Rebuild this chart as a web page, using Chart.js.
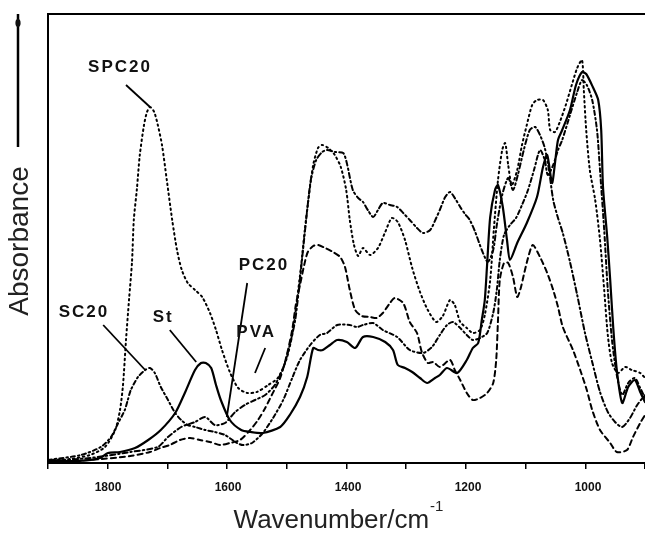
<!DOCTYPE html>
<html lang="en">
<head>
    <meta charset="UTF-8">
    <title>FTIR spectra</title>
    <script src="https://cdn.jsdelivr.net/npm/chart.js"></script>
    <style>
        html, body { margin: 0; padding: 0; background: #fff; }
        canvas#ftir-chart { display: block; }
    </style>
</head>
<body>
    <canvas id="ftir-chart" width="645" height="534"></canvas>

    <script>
        // tick labels shown on the wavenumber axis
        const tickLabels = [1800, 1600, 1400, 1200, 1000];

        // St (solid)
        const stWn  = [1900, 1847, 1813, 1800, 1780, 1755, 1733, 1712, 1688, 1672, 1655, 1645, 1637, 1628, 1620, 1612, 1597, 1578, 1563, 1542, 1513, 1497, 1480, 1468, 1458, 1450, 1442, 1430, 1418, 1402, 1388, 1375, 1358, 1338, 1325, 1317, 1305, 1293, 1280, 1268, 1255, 1247, 1235, 1218, 1202, 1192, 1183, 1177, 1172, 1168, 1163, 1155, 1150, 1142, 1135, 1130, 1118, 1102, 1085, 1075, 1068, 1060, 1055, 1050, 1043, 1030, 1020, 1010, 1003, 992, 983, 978, 975, 968, 963, 958, 952, 943, 933, 922, 913, 905];
        const stAbs = [2, 2, 5, 10, 11, 15, 23, 33, 50, 70, 93, 100, 100, 95, 78, 63, 43, 33, 31, 30, 36, 48, 66, 86, 115, 113, 113, 118, 123, 121, 115, 126, 126, 121, 113, 98, 95, 91, 85, 80, 85, 88, 95, 90, 103, 115, 120, 143, 163, 200, 246, 273, 278, 256, 223, 203, 220, 240, 266, 296, 308, 280, 300, 323, 333, 353, 378, 391, 389, 376, 363, 333, 276, 226, 183, 136, 93, 60, 76, 83, 71, 61];

        // SPC20
        const spcWn  = [1900, 1863, 1830, 1805, 1788, 1780, 1775, 1770, 1765, 1760, 1757, 1752, 1747, 1740, 1735, 1730, 1723, 1717, 1710, 1702, 1693, 1685, 1677, 1667, 1655, 1643, 1630, 1620, 1610, 1597, 1583, 1568, 1552, 1533, 1517, 1503, 1493, 1485, 1478, 1472, 1465, 1458, 1450, 1443, 1433, 1422, 1412, 1403, 1397, 1390, 1383, 1375, 1363, 1350, 1338, 1327, 1317, 1305, 1293, 1280, 1267, 1253, 1242, 1230, 1222, 1213, 1202, 1192, 1180, 1172, 1163, 1157, 1150, 1143, 1138, 1133, 1127, 1118, 1110, 1102, 1093, 1085, 1075, 1067, 1063, 1055, 1047, 1037, 1027, 1018, 1010, 1007, 1003, 997, 988, 980, 973, 967, 960, 950, 938, 927, 913, 905];
        const spcAbs = [3, 4, 8, 16, 33, 53, 78, 123, 163, 201, 243, 273, 308, 338, 351, 356, 351, 338, 318, 283, 243, 213, 193, 180, 173, 166, 150, 133, 113, 91, 75, 70, 71, 78, 85, 103, 128, 163, 198, 233, 268, 298, 315, 318, 315, 308, 296, 273, 243, 218, 207, 215, 208, 215, 231, 245, 241, 223, 195, 171, 153, 141, 147, 163, 158, 141, 135, 130, 133, 148, 183, 233, 283, 313, 320, 298, 278, 293, 318, 338, 358, 363, 363, 353, 333, 331, 341, 358, 378, 395, 403, 373, 333, 293, 263, 223, 173, 128, 100, 90, 96, 93, 90, 85];

        // SC20
        const scWn  = [1900, 1845, 1812, 1795, 1783, 1772, 1767, 1762, 1750, 1738, 1730, 1722, 1712, 1700, 1688, 1678, 1667, 1655, 1638, 1622, 1605, 1585, 1575, 1560, 1542, 1525, 1508, 1493, 1480, 1463, 1447, 1435, 1418, 1397, 1385, 1375, 1358, 1342, 1318, 1297, 1275, 1260, 1247, 1235, 1225, 1213, 1202, 1192, 1180, 1168, 1158, 1152, 1147, 1140, 1130, 1120, 1110, 1100, 1090, 1080, 1072, 1067, 1058, 1050, 1043, 1030, 1018, 1010, 1002, 993, 985, 980, 973, 967, 960, 952, 943, 933, 922, 913, 905];
        const scAbs = [3, 8, 16, 26, 40, 53, 63, 73, 86, 93, 95, 90, 76, 63, 50, 43, 38, 36, 33, 31, 28, 20, 18, 20, 30, 45, 63, 85, 103, 118, 128, 130, 138, 138, 136, 138, 140, 133, 126, 113, 110, 116, 128, 138, 141, 135, 128, 123, 125, 130, 150, 173, 203, 228, 238, 245, 258, 273, 293, 313, 303, 288, 298, 313, 323, 348, 371, 383, 378, 363, 333, 293, 233, 173, 123, 88, 68, 80, 85, 75, 65];

        // PC20
        const pcWn  = [1900, 1830, 1763, 1717, 1700, 1678, 1655, 1638, 1622, 1605, 1588, 1572, 1555, 1538, 1522, 1508, 1497, 1488, 1482, 1475, 1468, 1462, 1453, 1443, 1435, 1422, 1408, 1402, 1392, 1383, 1375, 1367, 1358, 1350, 1342, 1330, 1318, 1308, 1297, 1285, 1275, 1263, 1253, 1247, 1238, 1230, 1222, 1213, 1205, 1197, 1188, 1177, 1167, 1158, 1152, 1143, 1133, 1125, 1117, 1107, 1097, 1088, 1080, 1072, 1065, 1058, 1050, 1042, 1030, 1018, 1005, 993, 980, 967, 955, 943, 930, 918, 905];
        const pcAbs = [2, 5, 11, 16, 26, 36, 41, 46, 38, 40, 51, 58, 63, 68, 78, 95, 118, 143, 173, 213, 253, 283, 303, 311, 313, 311, 310, 300, 273, 265, 261, 253, 246, 253, 260, 258, 256, 250, 243, 235, 230, 233, 245, 253, 266, 271, 265, 256, 249, 243, 231, 213, 201, 213, 238, 268, 285, 273, 288, 313, 333, 336, 328, 315, 293, 263, 245, 230, 201, 168, 130, 101, 71, 51, 41, 36, 45, 58, 68];

        // PVA
        const pvaWn  = [1900, 1830, 1763, 1730, 1713, 1697, 1680, 1663, 1647, 1630, 1613, 1597, 1580, 1563, 1550, 1538, 1527, 1513, 1502, 1493, 1487, 1480, 1473, 1467, 1458, 1450, 1438, 1425, 1413, 1405, 1397, 1388, 1377, 1363, 1352, 1342, 1330, 1322, 1308, 1297, 1285, 1277, 1267, 1258, 1247, 1230, 1222, 1213, 1202, 1192, 1180, 1168, 1158, 1153, 1150, 1147, 1140, 1133, 1125, 1118, 1113, 1107, 1100, 1092, 1080, 1068, 1058, 1050, 1042, 1025, 1013, 1002, 993, 980, 963, 952, 935, 925, 913, 905];
        const pvaAbs = [1, 3, 7, 11, 15, 18, 23, 25, 23, 21, 18, 20, 23, 33, 43, 55, 68, 85, 108, 133, 158, 178, 198, 211, 217, 218, 215, 211, 206, 196, 173, 153, 147, 146, 145, 150, 160, 165, 160, 141, 130, 111, 100, 101, 96, 103, 93, 83, 70, 63, 65, 70, 80, 103, 143, 183, 200, 200, 186, 166, 173, 188, 205, 218, 206, 190, 173, 156, 136, 113, 93, 73, 53, 33, 20, 11, 13, 26, 40, 48];

        // curve labels with leader lines: [text, textWn, textAbs, fromWn, fromAbs, toWn, toAbs]
        const curveLabels = [
            ['SPC20', 1780, 396, 1770, 378, 1730, 356],
            ['SC20',  1840, 151, 1808, 138, 1738, 93],
            ['St',    1708, 146, 1697, 133, 1653, 101],
            ['PC20',  1540, 198, 1568, 180, 1602, 46],
            ['PVA',   1553, 131, 1538, 115, 1555, 90]
        ];

        function pts(wn, ab) {
            return wn.map((w, i) => ({ x: w, y: ab[i] }));
        }

        function series(label, wn, ab, dash, width) {
            return {
                label: label,
                data: pts(wn, ab),
                borderColor: '#000',
                borderWidth: width,
                borderDash: dash,
                borderCapStyle: 'round',
                pointRadius: 0,
                tension: 0.25,
                fill: false
            };
        }

        const FONT = '"Liberation Sans", Arial, sans-serif';

        const decor = {
            id: 'decor',
            afterDraw(chart) {
                const { ctx, chartArea: a, scales: { x, y } } = chart;
                ctx.save();

                // frame (left and top)
                ctx.strokeStyle = '#000';
                ctx.lineWidth = 2;
                ctx.beginPath();
                ctx.moveTo(a.left, a.bottom);
                ctx.lineTo(a.left, a.top);
                ctx.lineTo(a.right, a.top);
                ctx.stroke();

                // tick labels
                ctx.fillStyle = '#111';
                ctx.font = 'bold 12px ' + FONT;
                ctx.textAlign = 'center';
                ctx.textBaseline = 'middle';
                tickLabels.forEach(t => {
                    ctx.fillText(String(t), x.getPixelForValue(t), a.bottom + 25);
                });

                // curve labels
                ctx.font = 'bold 17px ' + FONT;
                ctx.letterSpacing = '2px';
                ctx.lineWidth = 1.8;
                curveLabels.forEach(l => {
                    ctx.fillText(l[0], x.getPixelForValue(l[1]), y.getPixelForValue(l[2]));
                    ctx.beginPath();
                    ctx.moveTo(x.getPixelForValue(l[3]), y.getPixelForValue(l[4]));
                    ctx.lineTo(x.getPixelForValue(l[5]), y.getPixelForValue(l[6]));
                    ctx.stroke();
                });
                ctx.letterSpacing = '0px';

                // y title with arrow
                const ax = a.left - 30;
                ctx.lineWidth = 2.5;
                ctx.beginPath();
                ctx.moveTo(ax, a.top + 133);
                ctx.lineTo(ax, a.top);
                ctx.stroke();
                ctx.beginPath();
                ctx.ellipse(ax, a.top + 9, 2.6, 4, 0, 0, Math.PI * 2);
                ctx.fill();

                ctx.save();
                ctx.translate(ax + 2, a.top + 227);
                ctx.rotate(-Math.PI / 2);
                ctx.font = '28px ' + FONT;
                ctx.fillStyle = '#222';
                ctx.textAlign = 'center';
                ctx.textBaseline = 'middle';
                ctx.fillText('Absorbance', 0, 0);
                ctx.restore();

                // x title with superscript
                ctx.fillStyle = '#222';
                ctx.textAlign = 'left';
                ctx.textBaseline = 'alphabetic';
                const main = 'Wavenumber/cm';
                ctx.font = '26px ' + FONT;
                const w1 = ctx.measureText(main).width;
                ctx.font = '15px ' + FONT;
                const w2 = ctx.measureText('-1').width;
                const x0 = 338 - (w1 + w2) / 2;
                ctx.font = '26px ' + FONT;
                ctx.fillText(main, x0, 528);
                ctx.font = '15px ' + FONT;
                ctx.fillText('-1', x0 + w1 + 1, 511);
                ctx.restore();
            }
        };

        document.addEventListener('DOMContentLoaded', () => {
            const canvas = document.getElementById('ftir-chart');
            new Chart(canvas, {
                type: 'line',
                data: {
                    datasets: [
                        series('St', stWn, stAbs, [], 2.2),
                        series('SPC20', spcWn, spcAbs, [1.5, 3.5], 2),
                        series('SC20', scWn, scAbs, [4, 3, 1.5, 3], 2),
                        series('PC20', pcWn, pcAbs, [5, 3, 1.5, 3], 2),
                        series('PVA', pvaWn, pvaAbs, [5, 4], 2)
                    ]
                },
                options: {
                    responsive: false,
                    animation: false,
                    layout: { padding: { left: 48, top: 14, right: 0, bottom: 0 } },
                    plugins: {
                        legend: { display: false },
                        tooltip: { enabled: false }
                    },
                    scales: {
                        x: {
                            type: 'linear',
                            reverse: true,
                            min: 905,
                            max: 1900,
                            afterFit: (scale) => {
                                scale.height = 71;
                                scale.paddingLeft = 0;
                                scale.paddingRight = 0;
                            },
                            border: { display: true, color: '#000', width: 2 },
                            grid: { drawOnChartArea: false, color: '#000', lineWidth: 1.5, tickLength: 6 },
                            ticks: {
                                display: false,
                                stepSize: 100,
                                includeBounds: false,
                                autoSkip: false,
                                maxRotation: 0
                            }
                        },
                        y: {
                            display: false,
                            min: 0,
                            max: 449
                        }
                    }
                },
                plugins: [decor]
            });
        });
    </script>
</body>
</html>
